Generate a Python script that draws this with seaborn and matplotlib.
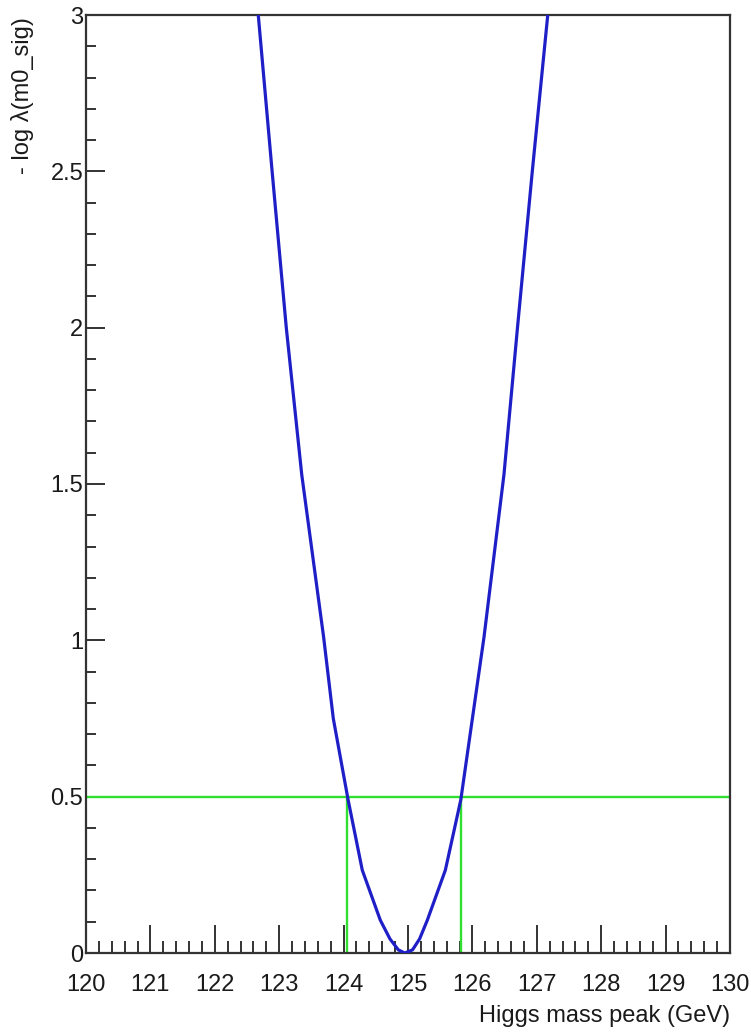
import numpy as np
import pandas as pd
import matplotlib
matplotlib.use("Agg")
import matplotlib.pyplot as plt
from matplotlib.ticker import MultipleLocator, FuncFormatter
import seaborn as sns

# профиль правдоподобия, точки
mass = [122.60, 122.675, 122.89, 123.11, 123.35, 123.69, 123.84, 124.07, 124.29, 124.57,
        124.72, 124.85, 124.95, 125.07, 125.18, 125.30, 125.58, 125.82, 126.00, 126.18,
        126.49, 126.70, 126.93, 127.17, 127.24]
nll = [3.25, 3.00, 2.50, 2.00, 1.53, 1.01, 0.75, 0.49, 0.265, 0.105,
       0.045, 0.01, 0.0, 0.01, 0.045, 0.105, 0.265, 0.49, 0.75, 1.01,
       1.53, 2.00, 2.50, 3.00, 3.25]

level = 0.5                      # уровень 1 сигма
ci_bounds = [124.06, 125.82]     # границы интервала

df = pd.DataFrame({"mass": mass, "nll": nll})

sns.set_theme(style="ticks")
plt.rcParams['font.family'] = ['Liberation Sans', 'DejaVu Sans']

fig = plt.figure(figsize=(7.51, 10.32), dpi=100)
ax = fig.add_axes([86 / 751, 1 - 953 / 1032, 644 / 751, 938 / 1032])

green = "#30e030"
ax.axhline(level, color=green, lw=1.7, zorder=2)
ax.vlines(ci_bounds, 0, level, color=green, lw=1.7, zorder=2)

sns.lineplot(data=df, x="mass", y="nll", sort=False, estimator=None,
             color="#1f1fc8", lw=2.3, ax=ax, zorder=3)

ax.set_xlim(120, 130)
ax.set_ylim(0, 3)

ax.xaxis.set_major_locator(MultipleLocator(1))
ax.xaxis.set_minor_locator(MultipleLocator(0.2))
ax.yaxis.set_major_locator(MultipleLocator(0.5))
ax.yaxis.set_minor_locator(MultipleLocator(0.1))
ax.yaxis.set_major_formatter(FuncFormatter(lambda v, p: "%g" % v))
ax.xaxis.set_major_formatter(FuncFormatter(lambda v, p: "%d" % v))

ax.tick_params(axis="x", which="major", direction="in", length=20, width=1.4,
               color="#333333", labelsize=17, pad=15, top=False, labelcolor="#1a1a1a")
ax.tick_params(axis="x", which="minor", direction="in", length=9, width=1.4,
               color="#333333", top=False)
ax.tick_params(axis="y", which="major", direction="in", length=13.5, width=1.4,
               color="#333333", labelsize=17, pad=2, right=False, labelcolor="#1a1a1a")
ax.tick_params(axis="y", which="minor", direction="in", length=7, width=1.4,
               color="#333333", right=False)

for s in ax.spines.values():
    s.set_linewidth(1.6)
    s.set_color("#333333")

ax.set_xlabel("Higgs mass peak (GeV)", fontsize=17, ha="right", va="baseline", color="#1a1a1a")
ax.xaxis.set_label_coords(1.0, -(1022 - 953) / 938)
ax.set_ylabel("- log λ(m0_sig)", fontsize=17, ha="right", va="center",
              rotation=90, rotation_mode="anchor", color="#1a1a1a")
ax.yaxis.set_label_coords(-(86 - 23) / 644, 0.998)

ax.grid(False)
fig.savefig("out.png", dpi=100)
